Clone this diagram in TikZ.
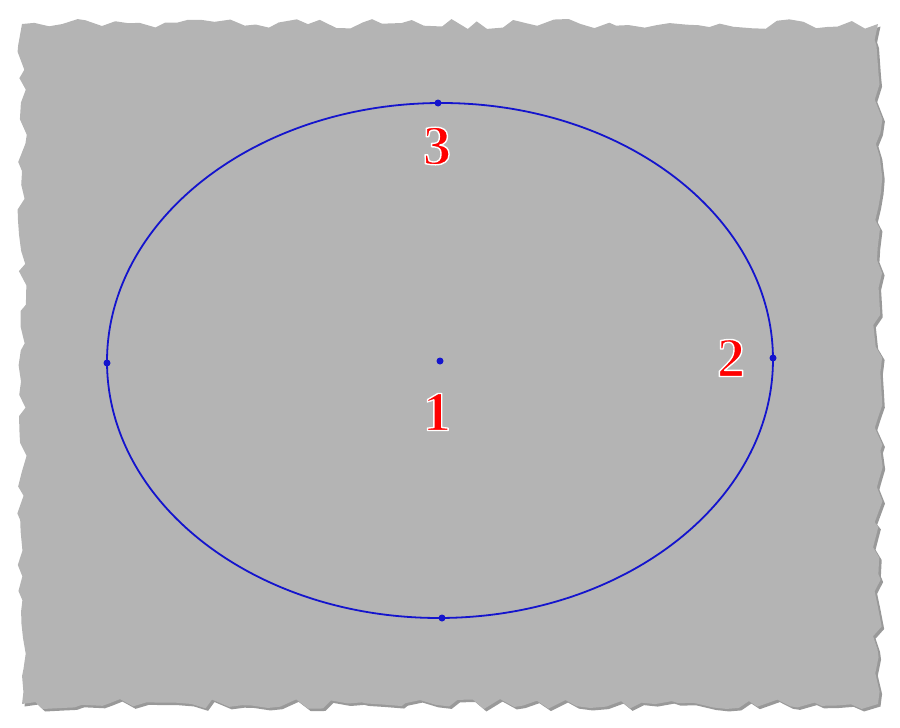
\documentclass[tikz,border=0pt]{standalone}
\usepackage{fontspec}
\newfontfamily\numfont{Liberation Serif}
\usetikzlibrary{decorations.pathmorphing}

\definecolor{sheet}{RGB}{180,180,180}
\definecolor{sheetshadow}{RGB}{70,70,70}
\definecolor{curve}{RGB}{20,20,205}

\tikzset{
  torn/.style={decorate,decoration={random steps,segment length=13pt,amplitude=5pt}},
  pt/.style={circle,fill=curve,inner sep=0pt,minimum size=7pt},
  num/.style={font=\numfont\bfseries\fontsize{56}{56}\selectfont,inner sep=0pt,text=red},
}

% red number, filled and stroked white in one go
\newcommand{\rimmed}[1]{%
  \special{pdf:literal 2 Tr 1.4 w 1 J 1 j 1 1 1 RG}#1\special{pdf:literal 0 Tr}}

\begin{document}
\begin{tikzpicture}[x=1pt,y=-1pt]
\useasboundingbox (0,0) rectangle (900,728);

% torn sheet with shadow
\pgfmathsetseed{7}
\fill[sheetshadow,opacity=0.55,torn,xshift=2.5pt,yshift=-2.5pt]
  (22,24) -- (878,24) -- (878,704) -- (22,704) -- cycle;
\pgfmathsetseed{7}
\fill[sheet,torn] (22,24) -- (878,24) -- (878,704) -- (22,704) -- cycle;

% ellipse
\coordinate (c) at (440,360.5);
\draw[curve,line width=1.8pt,rotate around={0.43:(c)}]
  (c) ellipse [x radius=333, y radius=257.5];

% points on the ellipse
\node[pt] (centre) at (440,361) {};
\node[pt] (east) at (773,358) {};
\node[pt] (west) at (107,363) {};
\node[pt] (north) at (438,103) {};
\node[pt] (south) at (442,618) {};

% labels
\node[num] (one) at (437,412) {\rimmed{1}};
\node[num] (two) at (731,358) {\rimmed{2}};
\node[num] (three) at (437,146) {\rimmed{3}};

\end{tikzpicture}
\end{document}
